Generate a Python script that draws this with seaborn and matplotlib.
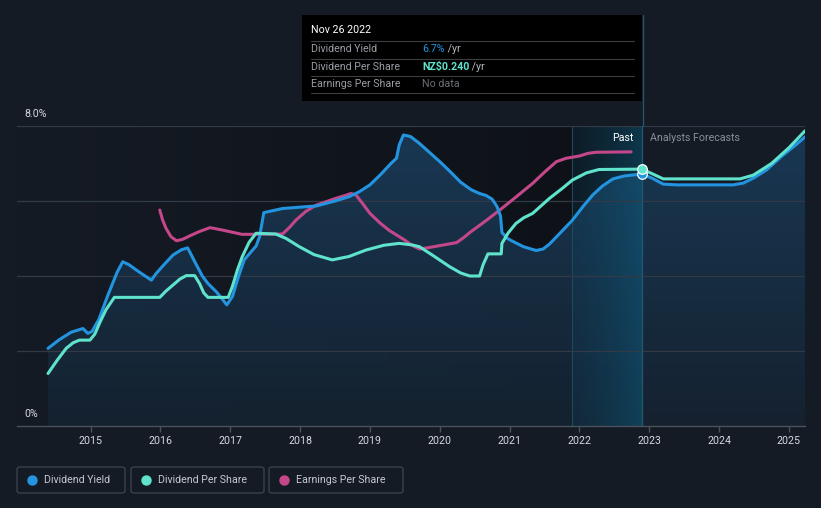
import numpy as np
import pandas as pd
import matplotlib
matplotlib.use("Agg")
import matplotlib.pyplot as plt
import seaborn as sns
from matplotlib.patches import Rectangle, FancyBboxPatch
from matplotlib.colors import LinearSegmentedColormap
from matplotlib.lines import Line2D

# ---------------- data (values on the chart's % scale) -------------
dy_x = [2014.39, 2014.55, 2014.72, 2014.89, 2014.96, 2015.02, 2015.12, 2015.25, 2015.38, 2015.46,
        2015.55, 2015.7, 2015.87, 2015.94, 2016.05, 2016.18, 2016.3, 2016.39, 2016.5, 2016.6,
        2016.68, 2016.8, 2016.88, 2016.95, 2017.03, 2017.12, 2017.2, 2017.3, 2017.37, 2017.42,
        2017.48, 2017.75, 2018.24, 2018.5, 2018.71, 2018.85, 2019.0, 2019.15, 2019.3, 2019.38,
        2019.42, 2019.48, 2019.58, 2019.7, 2019.85, 2020.0, 2020.14, 2020.3, 2020.45, 2020.57,
        2020.66, 2020.75, 2020.82, 2020.87, 2020.89, 2020.97, 2021.05, 2021.2, 2021.38, 2021.48,
        2021.57, 2021.7, 2021.9, 2022.05, 2022.19, 2022.33, 2022.48, 2022.65, 2022.9, 2023.05,
        2023.2, 2023.4, 2024.2, 2024.35, 2024.5, 2024.68, 2024.9, 2025.1, 2025.23]
dy_y = [2.07, 2.30, 2.50, 2.60, 2.47, 2.52, 2.85, 3.50, 4.10, 4.38,
        4.30, 4.10, 3.89, 4.07, 4.30, 4.56, 4.70, 4.75, 4.35, 4.00,
        3.80, 3.58, 3.40, 3.23, 3.45, 4.00, 4.43, 4.65, 4.80, 5.05,
        5.69, 5.80, 5.87, 6.00, 6.12, 6.25, 6.43, 6.70, 7.00, 7.14,
        7.50, 7.76, 7.72, 7.55, 7.30, 7.05, 6.80, 6.50, 6.30, 6.20,
        6.15, 6.05, 5.85, 5.60, 5.16, 5.00, 4.92, 4.78, 4.68, 4.72,
        4.85, 5.10, 5.49, 5.85, 6.16, 6.40, 6.59, 6.67, 6.72, 6.60,
        6.45, 6.43, 6.43, 6.48, 6.62, 6.83, 7.20, 7.50, 7.71]

dps_x = [2014.39, 2014.52, 2014.65, 2014.75, 2014.84, 2014.99, 2015.06, 2015.13, 2015.22, 2015.34,
         2015.99, 2016.08, 2016.18, 2016.28, 2016.37, 2016.49, 2016.56, 2016.62, 2016.68, 2016.97,
         2017.03, 2017.1, 2017.17, 2017.27, 2017.37, 2017.65, 2017.8, 2017.99, 2018.2, 2018.46,
         2018.7, 2018.94, 2019.2, 2019.42, 2019.6, 2019.71, 2019.9, 2020.14, 2020.3, 2020.43,
         2020.57, 2020.62, 2020.69, 2020.88, 2020.89, 2020.98, 2021.09, 2021.2, 2021.33, 2021.45,
         2021.57, 2021.75, 2021.9, 2022.1, 2022.28, 2022.9, 2023.05, 2023.2, 2024.3, 2024.49,
         2024.75, 2025.0, 2025.23]
dps_y = [1.40, 1.75, 2.07, 2.22, 2.29, 2.29, 2.45, 2.75, 3.10, 3.43,
         3.43, 3.60, 3.76, 3.92, 4.01, 4.01, 3.80, 3.55, 3.43, 3.43,
         3.72, 4.15, 4.51, 4.90, 5.14, 5.12, 5.00, 4.78, 4.57, 4.43,
         4.52, 4.69, 4.82, 4.87, 4.83, 4.78, 4.55, 4.25, 4.08, 4.00,
         4.00, 4.30, 4.59, 4.59, 4.87, 5.15, 5.40, 5.55, 5.67, 5.87,
         6.07, 6.33, 6.56, 6.75, 6.84, 6.85, 6.72, 6.59, 6.59, 6.69,
         7.00, 7.42, 7.87]

eps_x = [2015.99, 2016.03, 2016.08, 2016.15, 2016.23, 2016.32, 2016.42, 2016.55, 2016.71, 2016.9,
         2017.17, 2017.75, 2017.85, 2017.94, 2018.08, 2018.23, 2018.37, 2018.51, 2018.65, 2018.73,
         2018.8, 2018.9, 2019.0, 2019.14, 2019.28, 2019.48, 2019.6, 2019.71, 2019.85, 2020.0,
         2020.24, 2020.34, 2020.43, 2020.65, 2020.86, 2021.1, 2021.33, 2021.5, 2021.67, 2021.81,
         2022.0, 2022.12, 2022.24, 2022.74]
eps_y = [5.76, 5.50, 5.27, 5.05, 4.94, 4.98, 5.07, 5.18, 5.29, 5.22,
         5.11, 5.12, 5.30, 5.49, 5.72, 5.89, 5.98, 6.07, 6.15, 6.20,
         6.16, 5.92, 5.67, 5.42, 5.21, 4.98, 4.82, 4.72, 4.76, 4.81,
         4.89, 5.02, 5.16, 5.46, 5.76, 6.12, 6.47, 6.77, 7.05, 7.14,
         7.20, 7.27, 7.30, 7.31]

year_ticks = list(range(2015, 2026))
y_labels = ["0%", "8.0%"]
legend_names = ["Dividend Yield", "Dividend Per Share", "Earnings Per Share"]
now_x = 2022.9
past_start = 2021.9
tip_date = "Nov 26 2022"
tip_rows = [("Dividend Yield", "6.7%", " /yr"), ("Dividend Per Share", "NZ$0.240", " /yr"),
            ("Earnings Per Share", "No data", "")]

# ---------------- style -------------
BG = "#151b25"
BLUE = "#2394df"
TEAL = "#5fe3cc"
PINK = "#c4478a"
FS = 7.7

sns.set_theme(style="dark")
plt.rcParams["font.family"] = ["Roboto", "DejaVu Sans"]

W, H = 821, 508
fig = plt.figure(figsize=(W / 100, H / 100), dpi=100, facecolor=BG)
x0, x1, ytop, ybot = 17, 805, 126, 426
ax = fig.add_axes([x0 / W, 1 - ybot / H, (x1 - x0) / W, (ybot - ytop) / H])
ax.set_facecolor(BG)
xmin = 2014.39 - (48 - 17) / 69.8
xmax = 2025.23
ax.set_xlim(xmin, xmax)
ax.set_ylim(0, 8)

# darker past background (gradient from bg to dark)
hg = np.linspace(0, 1, 256).reshape(1, -1)
cmap_bg = LinearSegmentedColormap.from_list("bg", [BG, "#0e1218"])
ax.imshow(hg, extent=[xmin, past_start, 0, 8], origin="lower", aspect="auto", cmap=cmap_bg, zorder=0)
ax.axvspan(past_start, now_x, color="#0e1218", zorder=0.1, lw=0)

# gradient fill under dividend yield
poly = ax.fill_between(dy_x, dy_y, 0, color="none", lw=0, zorder=1)
cmap_fill = LinearSegmentedColormap.from_list("f", ["#152230", "#1a3a57"])
grad = np.linspace(0, 1, 256).reshape(-1, 1)
im = ax.imshow(grad, extent=[dy_x[0], xmax, 0, 8], origin="lower", aspect="auto",
               cmap=cmap_fill, zorder=1, alpha=0.95)
im.set_clip_path(poly.get_paths()[0], transform=ax.transData)

# past highlight band (horizontal gradient)
cmap_h = LinearSegmentedColormap.from_list("h", [(0.05, 0.3, 0.42, 0.18), (0.05, 0.4, 0.55, 0.45)])
ax.imshow(hg, extent=[past_start, now_x, 0, 8], origin="lower", aspect="auto",
          cmap=cmap_h, zorder=1.5)
ax.axvline(past_start, color="#1c4a5e", lw=0.8, zorder=1.6)

# grid
for g in [2, 4, 6, 8]:
    ax.axhline(g, color="#323a46", lw=0.9, zorder=2)

# "now" line inside the axes (below the markers)
ax.axvline(now_x, color="#1f5a70", lw=0.9, zorder=2.5)

# lines
df_dy = pd.DataFrame({"x": dy_x, "y": dy_y})
df_dps = pd.DataFrame({"x": dps_x, "y": dps_y})
df_eps = pd.DataFrame({"x": eps_x, "y": eps_y})
kw = dict(lw=2.2, estimator=None, sort=False, solid_capstyle="round", solid_joinstyle="round")
sns.lineplot(data=df_eps, x="x", y="y", ax=ax, color=PINK, zorder=3, **kw)
sns.lineplot(data=df_dy, x="x", y="y", ax=ax, color=BLUE, zorder=3.1, **kw)
sns.lineplot(data=df_dps, x="x", y="y", ax=ax, color=TEAL, zorder=3.2, **kw)

# current markers
ax.scatter([now_x], [np.interp(now_x, dy_x, dy_y)], s=48, color=BLUE, edgecolor="white", lw=0.9, zorder=5)
ax.scatter([now_x], [np.interp(now_x, dps_x, dps_y)], s=48, color=TEAL, edgecolor="white", lw=0.9, zorder=5.1)

# axes cosmetics
for s in ["top", "right", "left"]:
    ax.spines[s].set_visible(False)
ax.spines["bottom"].set_color("#4a515c")
ax.spines["bottom"].set_linewidth(1.0)
ax.set_xticks(year_ticks)
ax.set_xticklabels([str(y) for y in year_ticks], color="#d5d9df", fontsize=FS)
ax.tick_params(axis="x", length=4, color="#4a515c", width=1, pad=3, bottom=True)
ax.set_yticks([])
ax.set_xlabel("")
ax.set_ylabel("")
ax.grid(False)

fig.text(24 / W, 1 - 114 / H, y_labels[1], color="#d5d9df", fontsize=FS, va="center", ha="left")
fig.text(24 / W, 1 - 414 / H, y_labels[0], color="#d5d9df", fontsize=FS, va="center", ha="left")

# Past / Forecast labels
fig.text(633 / W, 1 - 138 / H, "Past", color="white", fontsize=FS, ha="right", va="center")
fig.text(650 / W, 1 - 138 / H, "Analysts Forecasts", color="#8a9099", fontsize=FS, ha="left", va="center")

# vertical now line above the axes up to the tooltip
fig.add_artist(Line2D([642.5 / W, 642.5 / W], [1 - 126 / H, 1 - 15 / H], color="#1f5a70", lw=0.9,
                      transform=fig.transFigure, zorder=4))

# tooltip
fig.add_artist(Rectangle((302 / W, 1 - 101 / H), 340 / W, 86 / H, transform=fig.transFigure,
                         facecolor="black", edgecolor="none", zorder=6))
fig.text(311 / W, 1 - 30 / H, tip_date, color="white", fontsize=FS, ha="left", va="center", zorder=7)
for yy in [41, 58.5, 76, 93]:
    fig.add_artist(Line2D([311 / W, 634 / W], [1 - yy / H, 1 - yy / H], color="#3a3d42", lw=0.8,
                          transform=fig.transFigure, zorder=7))
val_colors = [BLUE, TEAL, "#6b6f76"]
fig.canvas.draw()
for i, (lab, val, suf) in enumerate(tip_rows):
    yy = 1 - (49 + i * 17.7) / H
    fig.text(311 / W, yy, lab, color="#9a9ea5", fontsize=FS, ha="left", va="center", zorder=7)
    t = fig.text(422 / W, yy, val, color=val_colors[i], fontsize=FS, ha="left", va="center", zorder=7,
                 fontweight="bold" if i == 1 else "normal")
    if suf:
        bb = t.get_window_extent(renderer=fig.canvas.get_renderer())
        fig.text(bb.x1 / W, yy, suf, color="#b5b9bf", fontsize=FS, ha="left", va="center", zorder=7)

# legend buttons
boxes = [(17, 125), (131, 264), (269, 403)]
cols = [BLUE, TEAL, PINK]
for (bx0, bx1), name, c in zip(boxes, legend_names, cols):
    fig.add_artist(FancyBboxPatch((bx0 / W, 1 - 493 / H), (bx1 - bx0) / W, 26 / H,
                                  boxstyle="round,pad=0,rounding_size=0.004", transform=fig.transFigure,
                                  facecolor=BG, edgecolor="#3e4550", lw=0.9))
    fig.add_artist(Line2D([(bx0 + 15) / W], [1 - 480 / H], marker="o", markersize=6.5, color=c,
                          transform=fig.transFigure, lw=0))
    fig.text((bx0 + 27) / W, 1 - 480 / H, name, color="#c5c9cf", fontsize=FS, ha="left", va="center")

fig.savefig("out.png", dpi=100, facecolor=BG)
